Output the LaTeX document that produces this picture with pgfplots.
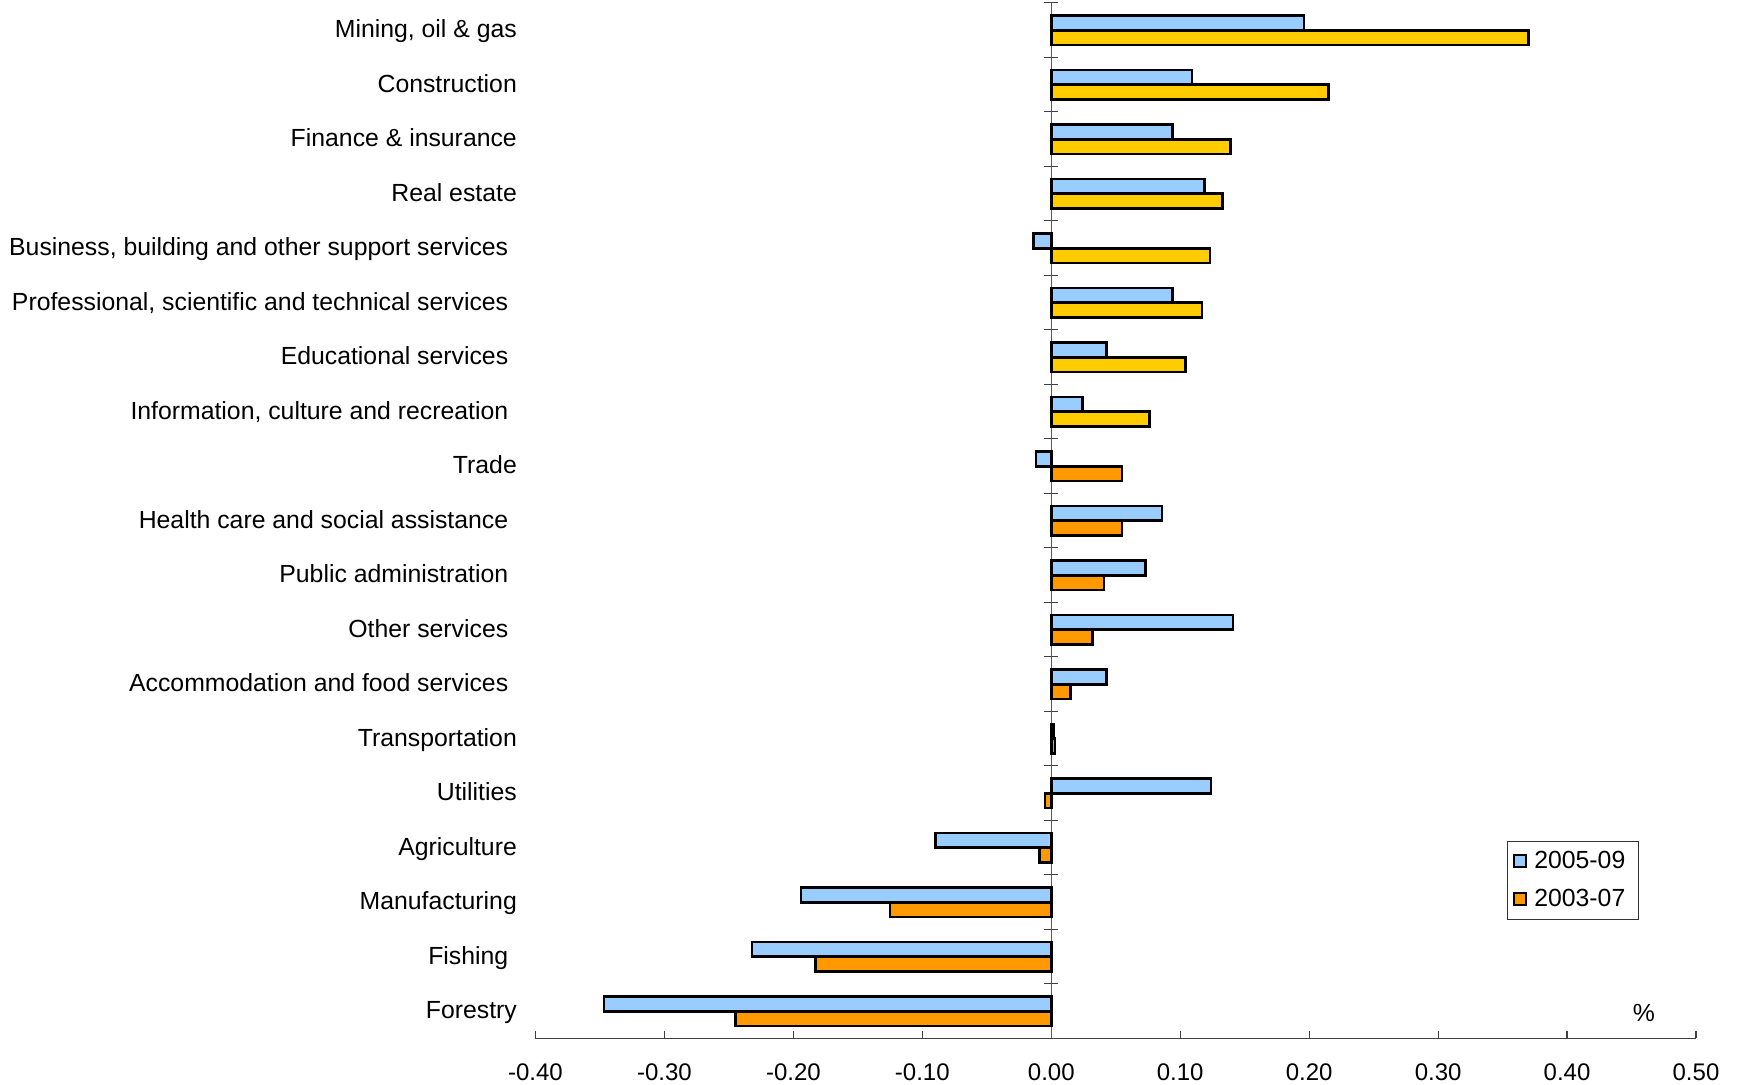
\documentclass[border=0pt]{standalone}
\usepackage{pgfplots}
\pgfplotsset{compat=1.18}
\usepackage{fontspec}
\setmainfont{Liberation Sans}
\definecolor{cblue}{HTML}{99CCFF}
\definecolor{cgold}{HTML}{FFCC00}
\definecolor{corange}{HTML}{FF9900}
\newcommand{\ts}{\hspace*{4.3pt}}
\begin{document}
\begin{tikzpicture}
\begin{axis}[
  scale only axis, width=580.25pt, height=517.75pt,
  xmin=-0.4, xmax=0.5, ymin=-0.5, ymax=18.5,
  xbar, bar width=7.3pt,
  clip=false,
  axis x line*=bottom, axis y line*=left,
  x axis line style={black!75, line width=0.6pt, -},
  y axis line style={draw=none},
  ytick style={draw=none},
  xtick style={black!75, line width=0.6pt},
  tick align=inside, major tick length=3.5pt,
  xtick={-0.4,-0.3,-0.2,-0.1,0,0.1,0.2,0.3,0.4,0.5},
  xticklabels={-0.40,-0.30,-0.20,-0.10,0.00,0.10,0.20,0.30,0.40,0.50},
  ytick={0,1,...,18},
  yticklabels={Forestry, Fishing\ts, Manufacturing, Agriculture, Utilities, Transportation,
    Accommodation and food services\ts, Other services\ts, Public administration\ts,
    Health care and social assistance\ts, Trade, {Information, culture and recreation\ts},
    Educational services\ts, {Professional, scientific and technical services\ts},
    {Business, building and other support services\ts}, Real estate, Finance \& insurance,
    Construction, {Mining, oil \& gas}},
  yticklabel style={font=\fontsize{12.4}{14}\selectfont, xshift=-5.8pt, yshift=-1.1pt,
    text height=0.73em, text depth=0.21em},
  xticklabel style={font=\fontsize{12}{14}\selectfont, yshift=-9pt},
  legend style={at={(0.8369,0.191)}, anchor=north west, draw=black!80, line width=0.6pt,
    fill=white, inner xsep=3pt, inner ysep=0.3pt, row sep=0pt,
    font=\fontsize{12.4}{14}\selectfont, nodes={inner ysep=4.5pt, inner xsep=3.5pt}},
  legend cell align=left,
]
\draw[black!65, line width=0.5pt] (axis cs:0,-0.5) -- (axis cs:0,18.5);
\pgfplotsinvokeforeach{-0.5,0.5,...,18.5}{
  \draw[black!75, line width=0.5pt] ([xshift=-3.5pt]axis cs:0,#1) -- ([xshift=3.5pt]axis cs:0,#1);
}
\addplot[fill=cblue, draw=black, line width=1.3pt, bar shift=3.65pt,
  legend image code/.code={\draw[fill=cblue, draw=black, line width=1pt] (0pt,-3pt) rectangle (6pt,3pt);}]
  coordinates {
  (-0.347,0) (-0.232,1) (-0.194,2) (-0.090,3) (0.124,4) (0.002,5) (0.043,6) (0.141,7)
  (0.073,8) (0.086,9) (-0.012,10) (0.024,11) (0.043,12) (0.094,13) (-0.014,14)
  (0.119,15) (0.094,16) (0.109,17) (0.196,18)};
\addlegendentry{2005-09}
\addplot[fill=cgold, draw=black, line width=1.3pt, bar shift=-3.65pt, forget plot]
  coordinates {
  (0.076,11) (0.104,12) (0.117,13) (0.123,14) (0.133,15) (0.139,16) (0.215,17) (0.370,18)};
\addplot[fill=corange, draw=black, line width=1.3pt, bar shift=-3.65pt,
  legend image code/.code={\draw[fill=corange, draw=black, line width=1pt] (0pt,-3pt) rectangle (6pt,3pt);}]
  coordinates {
  (-0.245,0) (-0.183,1) (-0.125,2) (-0.009,3) (-0.005,4) (0.003,5) (0.015,6) (0.032,7)
  (0.041,8) (0.055,9) (0.055,10)};
\addlegendentry{2003-07}
\node[font=\fontsize{12.4}{14}\selectfont] at (axis cs:0.4595,-0.023) {\%};
\end{axis}
\pgfresetboundingbox
\useasboundingbox (-267.75pt,-23.25pt) rectangle (601.25pt,519.25pt);
\end{tikzpicture}
\end{document}
